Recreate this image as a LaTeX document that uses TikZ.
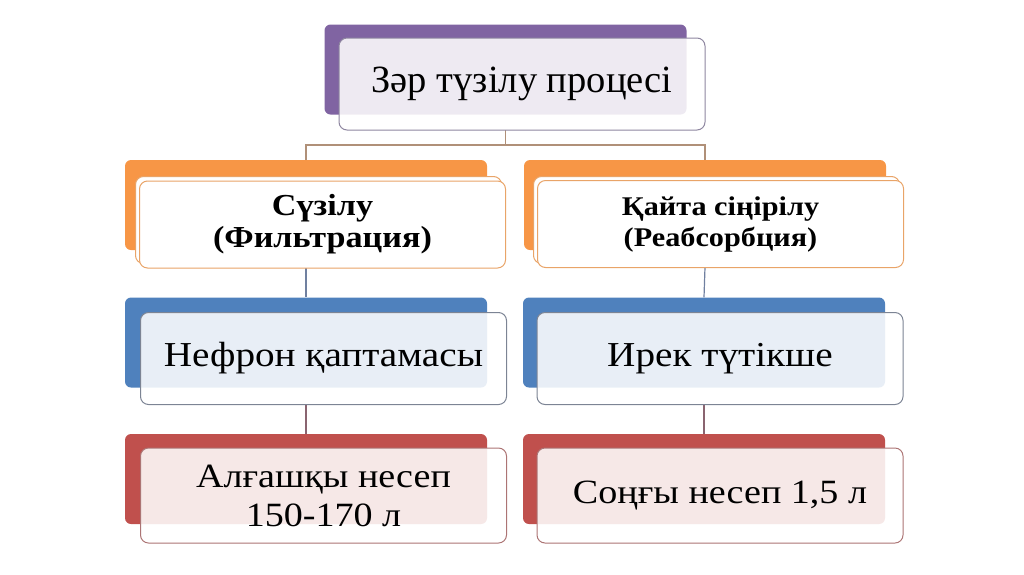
\documentclass[tikz,border=0pt]{standalone}
\usepackage{fontspec}
\setmainfont{Liberation Serif}
\newfontfamily\widefont[FakeStretch=1.12]{Liberation Serif}
\usepackage{tikz}
\usetikzlibrary{positioning, calc}
\definecolor{kpurple}{HTML}{8064A2}
\definecolor{korange}{HTML}{F79646}
\definecolor{kblue}{HTML}{4F81BD}
\definecolor{kred}{HTML}{C0504D}
\definecolor{kpurpleline}{HTML}{8E86A0}
\definecolor{korangeline}{HTML}{E9A468}
\definecolor{kblueline}{HTML}{7C8494}
\definecolor{kredline}{HTML}{AC7474}
\definecolor{ktan}{HTML}{B09078}
\definecolor{kbluelink}{HTML}{7080A0}
\definecolor{kredlink}{HTML}{8A6470}

\begin{document}
\begin{tikzpicture}[
    x=1pt, y=-1pt,
    back/.style={rectangle, rounded corners=6pt, minimum width=362pt,
                 minimum height=90pt, inner sep=0pt},
    front/.style={rectangle, rounded corners=8pt, minimum width=366pt,
                  minimum height=92pt, inner sep=0pt, align=center,
                  fill=white, fill opacity=0.87, text opacity=1, line width=1pt},
    link/.style={line width=1.2pt}
]
\useasboundingbox (0,0) rectangle (1024,574);

% Back plates
\node[back, fill=kpurple] (titlebk)  at (505.5,69.5) {};
\node[back, fill=korange] (filtbk)   at (306,205)    {};
\node[back, fill=korange] (reabsbk)  at (705,205)    {};
\node[back, fill=kblue]   (nephbk)   at (306,342.5)  {};
\node[back, fill=kblue]   (tubebk)   at (704,342.5)  {};
\node[back, fill=kred]    (primbk)   at (306,479)    {};
\node[back, fill=kred]    (finalbk)  at (704,479)    {};

% Connectors
\coordinate (fork) at (505.5,145);
\draw[link, ktan] (titlebk.south |- 0,130) -- (fork);
\draw[link, ktan] (filtbk.north) |- (fork) -| (reabsbk.north);
\draw[link, kbluelink] (filtbk.south |- 0,268) -- (nephbk.north);
\draw[link, kbluelink] (reabsbk.south |- 0,267) -- (tubebk.north);
\draw[link, kredlink] (nephbk.south |- 0,405) -- (primbk.north);
\draw[link, kredlink] (tubebk.south |- 0,405) -- (finalbk.north);

% Level 1
\node[front, draw=kpurpleline, font=\fontsize{38.5}{42}\selectfont] (title) at (522,84)
    {Зәр түзілу процесі};

% Level 2
\node[front, draw=korangeline, fill opacity=1, minimum height=87pt] (filtsh) at (318.5,220) {};
\node[front, draw=korangeline, fill opacity=1, minimum height=87pt,
      font=\widefont\bfseries\fontsize{30.5}{32}\selectfont] (filt) at (322.5,224.5)
    {Сүзілу\\(Фильтрация)};
\node[front, draw=korangeline, fill opacity=1, minimum height=87pt] (reabssh) at (716.5,220) {};
\node[front, draw=korangeline, fill opacity=1, minimum height=87pt,
      font=\widefont\bfseries\fontsize{27}{31}\selectfont] (reabs) at (720.5,224)
    {Қайта сіңірілу\\(Реабсорбция)};

% Level 3
\node[front, draw=kblueline, font=\widefont\fontsize{35}{40}\selectfont] (neph) at (323.5,358.5)
    {Нефрон қаптамасы};
\node[front, draw=kblueline, font=\widefont\fontsize{35}{40}\selectfont] (tube) at (720,358.5)
    {Ирек түтікше};

% Level 4
\node[front, draw=kredline, minimum height=95pt, font=\widefont\fontsize{34}{39}\selectfont] (prim) at (323.5,495.5)
    {Алғашқы несеп\\150-170 л};
\node[front, draw=kredline, minimum height=95pt, font=\widefont\fontsize{34}{39}\selectfont] (final) at (720,495.5)
    {Соңғы несеп 1,5 л};

\end{tikzpicture}
\end{document}
